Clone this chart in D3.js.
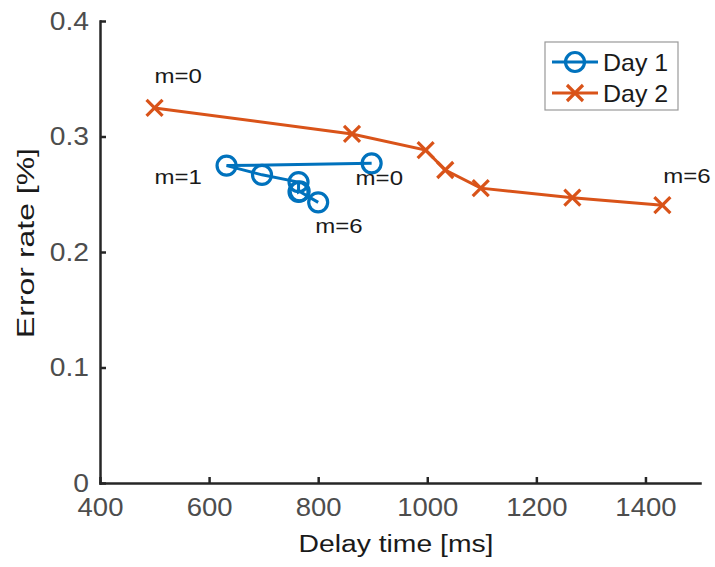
<!DOCTYPE html>
<html>
<head>
<meta charset="utf-8">
<script src="https://cdn.jsdelivr.net/npm/d3@7"></script>
<style>
  body { margin: 0; background: #fff; }
  .axis text { font-family: "Liberation Sans", Arial, sans-serif; font-size: 25px; fill: #4d4d4d; }
  .axis path, .axis line { stroke: #262626; stroke-width: 2.5; }
  .lbl { font-family: "Liberation Sans", Arial, sans-serif; fill: #1a1a1a; }
</style>
</head>
<body>
<script>
// Day 1 (blue, circles), m = 0..6
var day1Delay = [898, 632, 697, 764, 764, 766, 800];
var day1Error = [0.2768, 0.2748, 0.2668, 0.2605, 0.2520, 0.2525, 0.2430];
// Day 2 (orange, crosses), m = 0..6
var day2Delay = [500, 862, 997, 1033, 1098, 1266, 1431];
var day2Error = [0.3247, 0.3022, 0.2882, 0.2710, 0.2553, 0.2470, 0.2405];

var xTicks = [400, 600, 800, 1000, 1200, 1400];
var yTicks = [0, 0.1, 0.2, 0.3, 0.4];

var seriesNames = ["Day 1", "Day 2"];
var colors = ["#0072BD", "#D95319"];

var W = 715, H = 567;
var svg = d3.select("body").append("svg").attr("width", W).attr("height", H);

var x = d3.scaleLinear().domain([400, 1500]).range([100, 700]);
var y = d3.scaleLinear().domain([0, 0.4]).range([483, 21]);

// the original font is wider than Liberation Sans, so stretch text a bit
function stretch(sel, f) {
  sel.each(function() {
    var len = this.getComputedTextLength();
    d3.select(this).attr("textLength", len * f).attr("lengthAdjust", "spacingAndGlyphs");
  });
}

// axes, ticks pointing inward
var xAxisG = svg.append("g")
  .attr("class", "axis")
  .attr("transform", "translate(0,483)")
  .call(d3.axisBottom(x).tickValues(xTicks).tickSizeInner(-6).tickSizeOuter(0).tickPadding(15).tickFormat(d3.format("d")));

var yAxisG = svg.append("g")
  .attr("class", "axis")
  .attr("transform", "translate(100,0)")
  .call(d3.axisLeft(y).tickValues(yTicks).tickSizeInner(-6).tickSizeOuter(0).tickPadding(11).tickFormat(function(d) { return d === 0 ? "0" : d3.format(".1f")(d); }));

svg.selectAll(".axis .domain").attr("stroke-linecap", "square");
stretch(xAxisG.selectAll("text"), 1.1);
stretch(yAxisG.selectAll("text"), 1.13);

svg.append("text").attr("class", "lbl")
  .attr("x", 396).attr("y", 552)
  .attr("text-anchor", "middle").style("font-size", "23px")
  .attr("textLength", 195).attr("lengthAdjust", "spacingAndGlyphs")
  .text("Delay time [ms]");

svg.append("text").attr("class", "lbl")
  .attr("transform", "translate(34,243) rotate(-90)")
  .attr("text-anchor", "middle").style("font-size", "24px")
  .attr("textLength", 190).attr("lengthAdjust", "spacingAndGlyphs")
  .text("Error rate [%]");

var line = d3.line().x(function(d) { return x(d[0]); }).y(function(d) { return y(d[1]); });

var d1 = d3.zip(day1Delay, day1Error);
var d2 = d3.zip(day2Delay, day2Error);

function crossPath(s) {
  return "M" + (-s) + "," + (-s) + "L" + s + "," + s + "M" + (-s) + "," + s + "L" + s + "," + (-s);
}

// Day 2
svg.append("path").datum(d2).attr("d", line)
  .attr("fill", "none").attr("stroke", colors[1]).attr("stroke-width", 3);
svg.selectAll(".x2").data(d2).enter().append("path")
  .attr("transform", function(d) { return "translate(" + x(d[0]) + "," + y(d[1]) + ")"; })
  .attr("d", crossPath(8)).attr("stroke", colors[1]).attr("stroke-width", 3.2).attr("fill", "none");

// Day 1
svg.append("path").datum(d1).attr("d", line)
  .attr("fill", "none").attr("stroke", colors[0]).attr("stroke-width", 3);
svg.selectAll(".c1").data(d1).enter().append("circle")
  .attr("cx", function(d) { return x(d[0]); })
  .attr("cy", function(d) { return y(d[1]); })
  .attr("r", 9.5).attr("fill", "none").attr("stroke", colors[0]).attr("stroke-width", 3.2);

// annotations
var notes = [
  {t: "m=0", px: day2Delay[0], py: day2Error[0], dx: 0, dy: -25},
  {t: "m=1", px: day1Delay[1], py: day1Error[1], dx: -72, dy: 18},
  {t: "m=0", px: day1Delay[0], py: day1Error[0], dx: -16, dy: 22},
  {t: "m=6", px: day1Delay[6], py: day1Error[6], dx: -3, dy: 31},
  {t: "m=6", px: day2Delay[6], py: day2Error[6], dx: 1, dy: -22}
];
var noteText = svg.selectAll(".note").data(notes).enter().append("text")
  .attr("class", "lbl")
  .attr("x", function(d) { return x(d.px) + d.dx; })
  .attr("y", function(d) { return y(d.py) + d.dy; })
  .style("font-size", "20px")
  .text(function(d) { return d.t; });
stretch(noteText, 1.2);

// legend
var lg = svg.append("g");
lg.append("rect").attr("x", 545).attr("y", 42).attr("width", 133).attr("height", 68)
  .attr("fill", "#fff").attr("stroke", "#999").attr("stroke-width", 1.2);
seriesNames.forEach(function(name, i) {
  var cy = 62 + i * 31;
  lg.append("line").attr("x1", 552).attr("x2", 598).attr("y1", cy).attr("y2", cy)
    .attr("stroke", colors[i]).attr("stroke-width", 3);
  if (i === 0) {
    lg.append("circle").attr("cx", 575).attr("cy", cy).attr("r", 9.5)
      .attr("fill", "none").attr("stroke", colors[i]).attr("stroke-width", 3.2);
  } else {
    lg.append("path").attr("transform", "translate(575," + cy + ")")
      .attr("d", crossPath(8)).attr("stroke", colors[i]).attr("stroke-width", 3.2);
  }
  var t = lg.append("text").attr("class", "lbl").attr("x", 603).attr("y", cy + 8.5)
    .style("font-size", "24px").text(name);
  stretch(t, 1.04);
});
</script>
</body>
</html>
